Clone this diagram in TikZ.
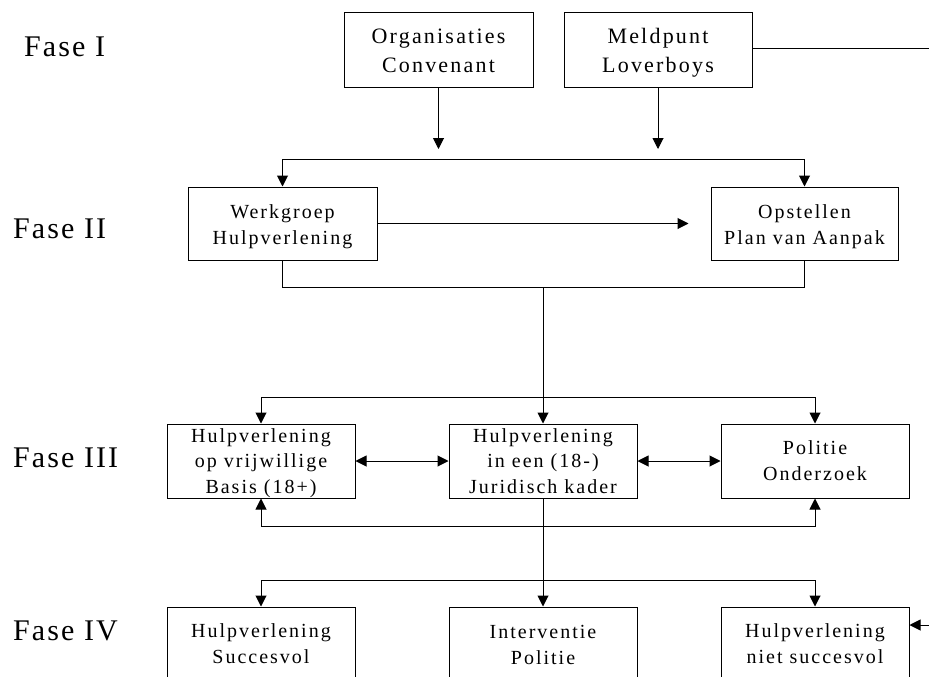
\documentclass[tikz,border=0pt]{standalone}
\usepackage{fontspec}
\setmainfont{Liberation Serif}
\newfontfamily\boxfont[LetterSpace=10]{Liberation Serif}
\newfontfamily\fasefont[LetterSpace=7]{Liberation Serif}
\usetikzlibrary{arrows.meta}
\newcommand\boxlines[1]{\setlength{\tabcolsep}{0pt}\begin{tabular}[b]{c}#1\end{tabular}}
\tikzset{
  box/.style={draw=black, line width=1pt, minimum width=188pt, minimum height=74pt, inner sep=0pt},
  txt/.style={anchor=base, inner sep=0pt, font=\boxfont\fontsize{20}{25.5}\selectfont},
  toptxt/.style={txt, font=\boxfont\fontsize{22}{29}\selectfont},
  fase/.style={anchor=base west, inner sep=0pt, font=\fasefont\fontsize{30}{36}\selectfont},
  conn/.style={line width=1pt, draw=black},
  arr/.style={conn, -{Triangle[length=11pt,width=11pt]}},
  arrtwo/.style={conn, {Triangle[length=11pt,width=11pt]}-{Triangle[length=11pt,width=11pt]}}
}
\begin{document}
\begin{tikzpicture}[x=1pt,y=-1pt]
\useasboundingbox (0,0) rectangle (929,677);
% phase labels
\node[fase] (f1) at (24,57) {Fase I};
\node[fase] (f2) at (13,238) {Fase II};
\node[fase] (f3) at (13,467) {Fase III};
\node[fase] (f4) at (13,640) {Fase IV};
% boxes
\node[box, minimum width=189pt] (org) at (438.5,50) {};
\node[box] (meld) at (658,50) {};
\node[box, minimum width=189pt, minimum height=73pt] (werk) at (282.5,223.5) {};
\node[box, minimum width=187pt, minimum height=73pt] (opst) at (804.5,223.5) {};
\node[box] (vrij) at (261,461) {};
\node[box] (jur) at (543,461) {};
\node[box] (pol) at (815,461) {};
\node[box] (succ) at (261,644) {};
\node[box] (intv) at (543,644) {};
\node[box] (niet) at (815,644) {};
% box texts (anchored at the baseline of their last line)
\node[toptxt] (orgT) at (438.5,73) {\boxlines{Organisaties\\Convenant}};
\node[toptxt] (meldT) at (658,73) {\boxlines{Meldpunt\\Loverboys}};
\node[txt] (werkT) at (282.5,244) {\boxlines{Werkgroep\\Hulpverlening}};
\node[txt] (opstT) at (804.5,244) {\boxlines{Opstellen\\Plan van Aanpak}};
\node[txt] (vrijT) at (261,493) {\boxlines{Hulpverlening\\op vrijwillige\\Basis (18+)}};
\node[txt] (jurT) at (543,493) {\boxlines{Hulpverlening\\in een (18-)\\Juridisch kader}};
\node[txt] (polT) at (815,480) {\boxlines{Politie\\Onderzoek}};
\node[txt] (succT) at (261,663) {\boxlines{Hulpverlening\\Succesvol}};
\node[txt] (intvT) at (543,664) {\boxlines{Interventie\\Politie}};
\node[txt] (nietT) at (815,663) {\boxlines{Hulpverlening\\niet succesvol}};
% helper coordinates
\coordinate (h1) at (543,159);
\coordinate (h2) at (543,287);
\coordinate (h3) at (543,397);
\coordinate (h4) at (543,526);
\coordinate (h5) at (543,580);
\coordinate (edgeA) at (929,49);
\coordinate (edgeB) at (929,625);
% connectors phase I
\draw[conn] (meld.east |- edgeA) -- (edgeA);
\draw[arr, shorten >=10pt] (org.south) -- (org.south |- h1);
\draw[arr, shorten >=10pt] (meld.south) -- (meld.south |- h1);
% phase II
\draw[arrtwo] (werk.north) -- (werk.north |- h1) -- (opst.north |- h1) -- (opst.north);
\draw[arr, shorten >=22pt] (werk.east) -- (opst.west);
\draw[conn] (werk.south) -- (werk.south |- h2) -- (opst.south |- h2) -- (opst.south);
\draw[arr] (h2) -- (jur.north);
% phase III
\draw[arrtwo] (vrij.north) -- (vrij.north |- h3) -- (pol.north |- h3) -- (pol.north);
\draw[arrtwo] (vrij.east) -- (jur.west);
\draw[arrtwo] (jur.east) -- (pol.west);
\draw[arrtwo] (vrij.south) -- (vrij.south |- h4) -- (pol.south |- h4) -- (pol.south);
\draw[arr] (jur.south) -- (intv.north);
% phase IV
\draw[arrtwo] (succ.north) -- (succ.north |- h5) -- (niet.north |- h5) -- (niet.north);
\draw[arr] (edgeB) -- (niet.east |- edgeB);
\end{tikzpicture}
\end{document}
